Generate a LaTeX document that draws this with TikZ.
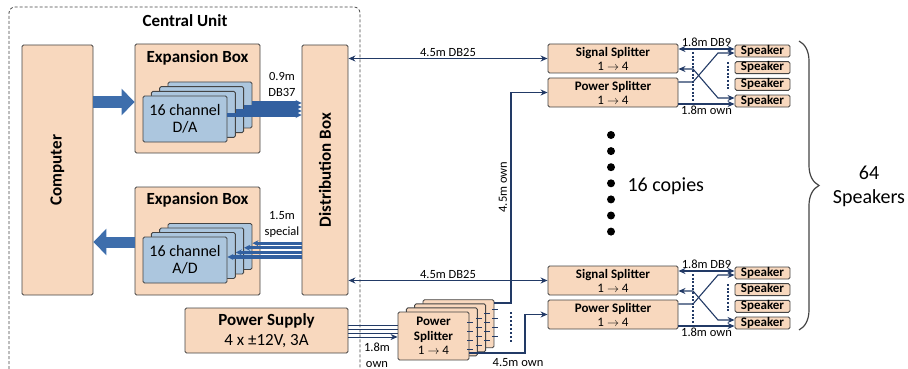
\documentclass[tikz,border=0pt]{standalone}
\usepackage{fontspec}
\setmainfont{Carlito}
\usetikzlibrary{positioning, arrows.meta, decorations.pathreplacing}
\definecolor{peach}{RGB}{248,216,190}
\definecolor{cardblue}{RGB}{172,198,222}
\definecolor{boxgray}{RGB}{68,68,68}
\definecolor{navy}{RGB}{34,58,102}
\definecolor{busblue}{RGB}{50,96,160}
\definecolor{fatblue}{RGB}{62,110,172}
\newcommand{\onetofour}{1 $\rightarrow$ 4}

\begin{document}
\begin{tikzpicture}[
    x=1pt, y=-1pt,
    unit/.style={
      draw=boxgray, fill=peach, line width=0.9pt, rounded corners=1.5pt,
      inner sep=0pt
    },
    card/.style={
      draw=boxgray, fill=cardblue, line width=0.9pt, rounded corners=1.5pt,
      minimum width=84pt, minimum height=46pt, inner sep=0pt, align=center,
      font=\fontsize{16}{17}\selectfont
    },
    pcard/.style={
      unit, minimum width=71pt, minimum height=48pt, align=center,
      font=\fontsize{13}{14.5}\selectfont
    },
    title/.style={font=\fontsize{17}{20}\selectfont\bfseries},
    spk/.style={
      unit, minimum width=55pt, minimum height=12pt, text height=9pt,
      text depth=2.5pt, font=\fontsize{13}{13}\selectfont\bfseries
    },
    split/.style={
      unit, minimum width=130pt, minimum height=29pt, align=center,
      font=\fontsize{13}{14}\selectfont
    },
    cable/.style={draw=navy, line width=1.1pt},
    tag/.style={font=\fontsize{12.5}{16}\selectfont, align=center, inner sep=1.5pt},
    bus/.style={draw=busblue, line width=3.2pt, -{Stealth[length=6pt,width=6pt]}},
    fat/.style={draw=fatblue, line width=11pt, -{Triangle[length=13pt,width=26pt]}},
    tip/.style={-{Stealth[length=7pt,width=6pt]}},
    tips/.style={{Stealth[length=7pt,width=6pt]}-{Stealth[length=7pt,width=6pt]}},
  ]
    \useasboundingbox (0,0) rectangle (908,369);
    \draw[boxgray, line width=0.8pt, dash pattern=on 3pt off 2pt, rounded corners=6pt]
      (9,369) -- (9,7) -- (360,7) -- (360,369);
    \node[title] (cu) at (185,21) {Central Unit};

    \node[unit, minimum width=71pt, minimum height=250pt] (comp) at (57.5,170) {};
    \node[title, rotate=90] (compt) at (comp) {Computer};
    \node[unit, minimum width=46pt, minimum height=250pt] (dist) at (325,170) {};
    \node[title, rotate=90] (distt) at (dist) {Distribution Box};

    \node[unit, minimum width=125pt, minimum height=109pt] (exp1) at (197.5,98.5) {};
    \node[title] (exp1t) at (197.5,58) {Expansion Box};
    \node[unit, minimum width=125pt, minimum height=108pt] (exp2) at (197.5,241) {};
    \node[title] (exp2t) at (197.5,200) {Expansion Box};

    \foreach \i in {3,2,1} {
      \node[card] (da\i) at (185+8.33*\i,119-4.67*\i) {};
      \node[card] (ad\i) at (185+8.33*\i,260-4.5*\i) {};
    }
    \node[card] (da0) at (185,119) {16 channel\\D/A};
    \node[card] (ad0) at (185,260) {16 channel\\A/D};
    \foreach \i in {0,...,3} {
      \draw[bus] (da\i.east |- 0,115-4*\i) -- (dist.west |- 0,115-4*\i);
      \draw[bus] (dist.west |- 0,257-4.6*\i) -- (ad\i.east |- 0,257-4.6*\i);
    }
    \draw[fat] (comp.east |- 0,102) -- (exp1.west |- 0,102);
    \draw[fat] (exp2.west |- 0,242) -- (comp.east |- 0,242);
    \node[tag] (db37) at (282,84) {0.9m\\DB37};
    \node[tag] (spec) at (282,224) {1.5m\\special};

    \node[unit, minimum width=163pt, minimum height=45pt, align=center,
      font=\fontsize{17}{20}\selectfont] (ps) at (266.5,330.5)
      {\textbf{Power Supply}\\4 x ±12V, 3A};

    \foreach \i/\y in {3/325,2/329,1/333}
      \draw[cable, line width=0.7pt] (ps.east |- 0,\y) -- (433.5+8.33*\i,\y);
    \foreach \i in {3,2,1} {
      \node[pcard] (psp\i) at (433.5+8.33*\i,336-4.1*\i) {};
      \foreach \k in {14,5,-4,-13}
        \draw[navy, line width=0.7pt] ([xshift=-2pt,yshift=\k pt]psp\i.east) -- ++(6,0);
    }
    \node[pcard] (psp0) at (433.5,336) {\textbf{Power}\\\textbf{Splitter}\\\onetofour};
    \foreach \k in {14,5,-4,-13}
      \draw[navy, line width=0.7pt] ([xshift=-2pt,yshift=\k pt]psp0.east) -- ++(6,0);
    \draw[cable, line width=0.7pt, tip] (ps.east |- 0,337) -- (psp0.west |- 0,337);
    \node[tag] (own0) at (377,355) {1.8m\\own};

    \foreach \g/\n in {0/1,222/2} {
      \node[split] (ss\n) at (613,58.5+\g) {\textbf{Signal Splitter}\\\onetofour};
      \node[split] (psx\n) at (613,92.5+\g) {\textbf{Power Splitter}\\\onetofour};
      \foreach \s in {1,...,4}
        \node[spk] (spk\n\s) at (762.5,34.33+16.67*\s+\g) {Speaker};
      \draw[navy, line width=2pt, dash pattern=on 2pt off 1.6pt] (693,52+\g) -- (693,102+\g);
      \draw[navy, line width=2pt, dash pattern=on 2pt off 1.6pt] (728,62+\g) -- (728,90+\g);
      \draw[cable, tips] (ss\n.east |- 0,49+\g) -- (spk\n1.west |- 0,49+\g)
        node[tag, midway, above] (db9\n) {1.8m DB9};
      \draw[cable, tips] (ss\n.east |- 0,69+\g) -- (693,69+\g) -- (718,98+\g)
        -- (spk\n4.west |- 0,98+\g);
      \draw[cable, tip] (psx\n.east |- 0,82+\g) -- (693,82+\g) -- (718,53+\g)
        -- (spk\n1.west |- 0,53+\g);
      \draw[cable, tip] (psx\n.east |- 0,104+\g) -- (spk\n4.west |- 0,104+\g)
        node[tag, midway, below] (own\n) {1.8m own};
      \draw[cable, tips] (dist.east |- ss\n.west) -- (ss\n.west)
        node[tag, midway, above] (db25\n) {4.5m DB25};
    }

    \coordinate (tap1) at (511,303);
    \coordinate (tap2) at (525,353);
    \draw[cable, tip] (psp3.east |- tap1) -- (tap1) |- (psx1.west);
    \draw[cable, tip] (psp0.east |- tap2) -- (tap2) |- (psx2.west);
    \draw[navy, line width=2pt, dash pattern=on 2pt off 2pt] (511,312) -- (511,343);
    \node[tag, rotate=90] (own3) at (503,187) {4.5m own};
    \node[tag] (own4) at (518,363) {4.5m own};

    \foreach \d in {0,...,6}
      \fill (611,135+16.1*\d) circle (4);
    \node[font=\fontsize{20}{24}\selectfont, anchor=west] (copies) at (624,186) {16 copies};
    \draw[boxgray, line width=1.2pt, decorate, decoration={brace, amplitude=20pt}]
      (799,41) -- (799,330);
    \node[font=\fontsize{20}{24}\selectfont, align=center] (total) at (869,186) {64\\Speakers};
  \end{tikzpicture}
\end{document}
